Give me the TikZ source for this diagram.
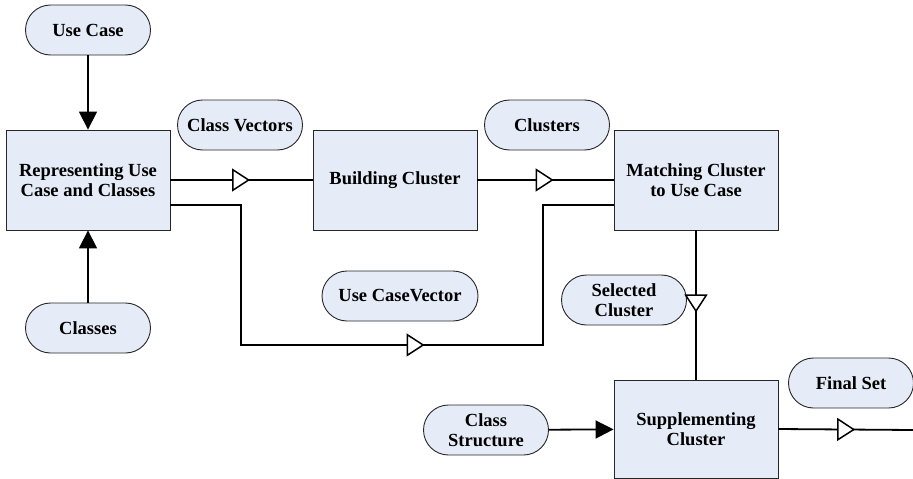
\documentclass[tikz,border=0pt]{standalone}
\usepackage{fontspec}
\setmainfont{Liberation Serif}
\usetikzlibrary{arrows.meta, decorations.markings, positioning}

\definecolor{boxblue}{RGB}{229,235,247}

\tikzset{
    procbox/.style={draw=black!85, line width=0.9pt, fill=boxblue, minimum width=164pt, minimum height=100pt,
        align=center, font=\fontsize{18.5}{20}\selectfont\bfseries},
    datapill/.style={draw=black!85, line width=0.9pt, fill=boxblue, rounded corners=25pt, minimum width=125pt,
        minimum height=50pt, align=center, inner sep=2pt, font=\fontsize{18.5}{20}\selectfont\bfseries},
    flow/.style={line width=1.8pt, -{Triangle[length=18pt, width=18pt]}},
    openhead/.tip={Triangle[fill=white, length=18pt, width=23pt, line width=1.5pt]},
    midflow/.style={line width=1.8pt, postaction={decorate}, decoration={markings,
        mark=at position #1 with {\arrow{openhead}}}}
}

\begin{document}
\begin{tikzpicture}[x=1pt, y=-1pt]
            % Fixed frame of the picture
            \path[use as bounding box] (0,0) rectangle (913,479);

            % Process boxes
            \node[procbox] (rep) at (88,180) {Representing Use\\Case and Classes};
            \node[procbox] (build) at (395,180) {Building Cluster};
            \node[procbox] (match) at (696,180) {Matching Cluster\\to Use Case};
            \node[procbox, minimum height=98pt] (supp) at (696,429) {Supplementing\\Cluster};

            % Data items
            \node[datapill] (usecase) at (88,30) {Use Case};
            \node[datapill] (classes) at (88,328) {Classes};
            \node[datapill] (cvec) at (240,125) {Class Vectors};
            \node[datapill] (clusters) at (547,125) {Clusters};
            \node[datapill, minimum width=156pt] (ucvec) at (400,296) {Use CaseVector};
            \node[datapill] (selected) at (624,300) {Selected\\Cluster};
            \node[datapill] (cstruct) at (486,430) {Class\\Structure};
            \node[datapill] (final) at (851,383) {Final Set};

            % Free points of the lines
            \coordinate (dl) at (241,345);
            \coordinate (dr) at (543,345);
            \coordinate (out) at (913,430);

            % Connections
            \draw[flow] (usecase) -- (rep);
            \draw[flow] (classes) -- (rep);
            \draw[flow] (cstruct) -- (supp);
            \draw[midflow=0.56] (rep.east) -- (build.west);
            \draw[midflow=0.56] (build.east) -- (match.west);
            \draw[midflow=0.545] ([yshift=-25pt]rep.east) -| (dl) -- (dr) |- ([yshift=-25pt]match.west);
            \draw[midflow=0.55] (match.south) -- (supp.north);
            \draw[midflow=0.57] (supp.east) -- (out);
        \end{tikzpicture}
\end{document}
